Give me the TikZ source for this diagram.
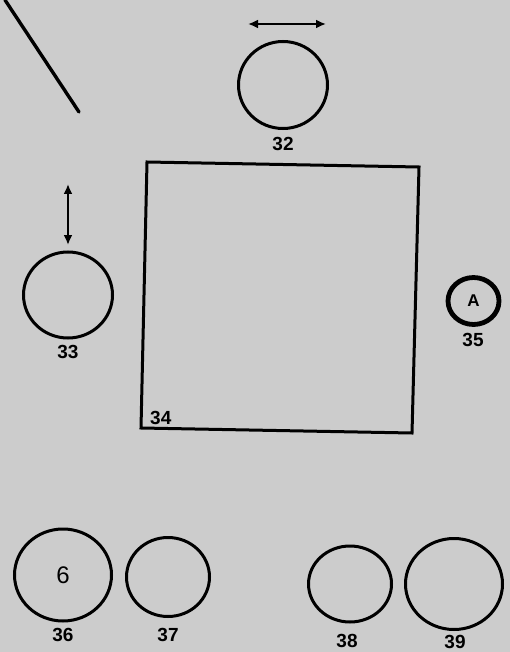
\documentclass[tikz,border=0pt]{standalone}
\usepackage{fontspec}
\setmainfont{Liberation Sans}
\usetikzlibrary{arrows.meta,shapes.geometric}
\definecolor{paper}{RGB}{204,204,204}
\tikzset{
  ink/.style={line width=3pt, draw=black},
  ring/.style={ink, ellipse, inner sep=0pt, outer sep=0pt},
  num/.style={font=\fontsize{19}{19}\selectfont\bfseries, inner sep=0pt, anchor=center},
  dbl/.style={line width=2.8pt, {Latex[length=10pt,width=9pt]}-{Latex[length=10pt,width=9pt]}},
}
\begin{document}
\begin{tikzpicture}[x=1pt,y=-1pt]
\fill[paper] (0,0) rectangle (510,652);
\useasboundingbox (0,0) rectangle (510,652);
% diagonal line
\coordinate (l1) at (5,0);
\coordinate (l2) at (79,112);
\draw[ink, line width=3.4pt, line cap=round] (l1) -- (l2);
% 32
\node[ring, minimum width=89pt, minimum height=87pt] (c32) at (283,85) {};
\node[num] (n32) at (283,144) {32};
\coordinate (a32l) at (248,24);
\coordinate (a32r) at (326,24);
\draw[dbl] (a32l) -- (a32r);
% 33
\node[ring, minimum width=89pt, minimum height=86pt] (c33) at (68,295) {};
\node[num] (n33) at (68,352) {33};
\coordinate (a33t) at (68,184);
\coordinate (a33b) at (68,245);
\draw[dbl] (a33t) -- (a33b);
% 34 box
\coordinate (r1) at (147,162);
\coordinate (r2) at (419,167);
\coordinate (r3) at (412,433);
\coordinate (r4) at (141,428);
\draw[ink, line join=miter] (r1) -- (r2) -- (r3) -- (r4) -- cycle;
\node[num, anchor=base west] (n34) at (150,424) {34};
% 35
\node[ring, line width=4.8pt, minimum width=51pt, minimum height=47pt] (c35) at (473.5,301)
  {\fontsize{17}{17}\selectfont\bfseries A};
\node[num] (n35) at (473,340) {35};
% 36
\node[ring, minimum width=97pt, minimum height=92pt] (c36) at (63,575)
  {\fontsize{24}{24}\selectfont\rmfamily 6};
\node[num] (n36) at (63,635) {36};
% 37
\node[ring, minimum width=83pt, minimum height=79pt] (c37) at (168,577) {};
\node[num] (n37) at (168,635) {37};
% 38
\node[ring, minimum width=83pt, minimum height=76pt] (c38) at (350,584) {};
\node[num] (n38) at (347,641) {38};
% 39
\node[ring, minimum width=97pt, minimum height=91pt] (c39) at (454,584) {};
\node[num] (n39) at (455,642) {39};
\end{tikzpicture}
\end{document}
